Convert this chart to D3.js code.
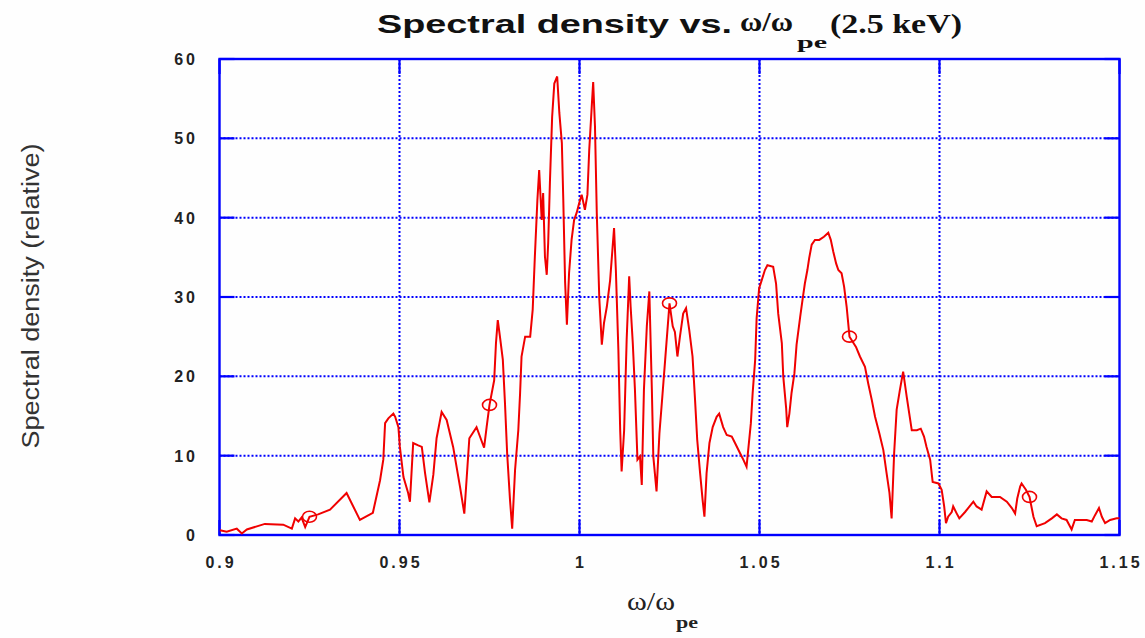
<!DOCTYPE html>
<html>
<head>
<meta charset="utf-8">
<script src="https://cdn.jsdelivr.net/npm/d3@7/dist/d3.min.js"></script>
<style>
  html, body { margin: 0; padding: 0; background: #ffffff; }
  svg { display: block; }
</style>
</head>
<body>
<svg id="chart" width="1145" height="638"></svg>
<script>
// ---- data ----
const freq = [
  0.9001,0.9020,0.9048,0.9062,0.9076,0.9126,0.9177,0.9201,0.9210,0.9219,0.9228,0.9238,0.9250,0.9274,0.9307,
  0.9353,0.9390,0.9426,0.9446,0.9455,0.9460,0.9469,0.9483,0.9488,0.9497,0.9501,0.9511,0.9524,0.9529,0.9538,
  0.9552,0.9562,0.9571,0.9583,0.9594,0.9603,0.9617,0.9631,0.9649,0.9668,0.9680,0.9694,0.9714,0.9735,0.9742,
  0.9750,0.9763,0.9768,0.9773,0.9779,0.9787,0.9793,0.9799,0.9807,0.9813,0.9821,0.9830,0.9835,0.9839,0.9849,
  0.9863,0.9870,0.9876,0.9883,0.9888,0.9895,0.9899,0.9904,0.9909,0.9913,0.9918,0.9924,0.9930,0.9938,0.9944,
  0.9951,0.9955,0.9960,0.9965,0.9971,0.9978,0.9985,0.9992,0.9999,1.0006,1.0015,1.0022,1.0027,1.0034,1.0038,
  1.0043,1.0048,1.0055,1.0062,1.0068,1.0076,1.0085,1.0092,1.0096,1.0101,1.0108,1.0113,1.0117,1.0124,1.0131,
  1.0138,1.0142,1.0148,1.0154,1.0161,1.0168,1.0173,1.0179,1.0187,1.0194,1.0201,1.0205,1.0214,1.0222,1.0230,
  1.0238,1.0250,1.0259,1.0265,1.0272,1.0279,1.0288,1.0296,1.0305,1.0314,1.0321,1.0327,1.0335,1.0342,1.0347,
  1.0353,1.0361,1.0370,1.0381,1.0388,1.0399,1.0409,1.0423,1.0432,1.0446,1.0455,1.0464,1.0476,1.0481,1.0488,
  1.0492,1.0499,1.0506,1.0515,1.0522,1.0538,1.0546,1.0552,1.0562,1.0566,1.0574,1.0577,1.0583,1.0589,1.0597,
  1.0603,1.0613,1.0620,1.0626,1.0633,1.0638,1.0645,1.0654,1.0666,1.0679,1.0691,1.0698,1.0705,1.0713,1.0719,
  1.0728,1.0735,1.0742,1.0750,1.0768,1.0779,1.0793,1.0802,1.0812,1.0821,1.0833,1.0844,1.0853,1.0861,1.0867,
  1.0874,1.0881,1.0890,1.0899,1.0909,1.0916,1.0923,1.0937,1.0948,1.0957,1.0964,1.0974,1.0981,1.0997,1.1006,
  1.1013,1.1018,1.1024,1.1034,1.1038,1.1048,1.1055,1.1071,1.1094,1.1103,1.1117,1.1131,1.1145,1.1168,1.1187,
  1.1201,1.1210,1.1216,1.1224,1.1228,1.1240,1.1250,1.1261,1.1270,1.1293,1.1312,1.1326,1.1339,1.1353,1.1367,
  1.1376,1.1409,1.1423,1.1432,1.1443,1.1451,1.1460,1.1474,1.1492,1.1500
];
const density = [
  0.6,0.4,0.8,0.2,0.7,1.4,1.3,0.8,2.1,1.7,2.2,1.0,2.3,2.6,3.2,
  5.3,1.9,2.8,6.9,9.5,14.1,14.7,15.3,14.9,13.6,11.1,7.3,5.3,4.2,11.6,
  11.3,11.1,7.8,4.1,7.6,12.2,15.5,14.5,11.1,6.1,2.7,12.2,13.6,11.0,13.6,
  16.4,19.5,24.2,27.1,25.0,22.1,16.6,10.3,4.4,0.8,8.2,13.2,17.9,22.5,25.0,
  25.0,28.4,35.1,42.2,46.0,39.7,43.1,35.1,32.8,36.8,44.7,52.7,56.9,57.8,53.2,
  49.4,42.2,31.9,26.5,33.0,37.2,39.7,40.6,41.8,42.9,41.0,42.9,48.5,54.0,57.1,
  51.5,40.6,29.8,24.0,26.7,28.8,32.1,36.3,38.7,33.4,23.3,13.2,8.0,13.2,24.6,
  32.6,28.8,24.2,18.3,9.5,9.9,6.3,18.3,26.3,30.7,18.3,9.9,5.5,12.8,17.4,
  22.1,29.2,26.3,25.6,22.5,25.0,27.9,28.6,25.8,22.5,17.0,12.0,7.8,4.4,2.3,
  7.8,11.6,13.6,14.9,15.3,13.6,12.6,12.4,11.6,10.3,9.5,8.6,14.1,17.9,22.1,
  27.3,31.1,32.1,33.4,34.0,33.8,31.7,27.9,24.2,20.0,16.0,13.6,15.3,17.9,20.4,
  24.0,27.5,29.8,31.7,33.4,34.9,36.6,37.2,37.2,37.6,38.1,37.2,35.7,34.2,33.4,
  33.0,31.3,28.8,25.0,23.7,22.5,21.2,19.1,17.0,14.9,12.8,10.7,7.8,5.3,2.1,
  10.3,15.8,18.3,20.6,17.4,15.3,13.2,13.2,13.4,12.4,11.1,9.5,6.7,6.5,5.7,
  3.6,1.5,2.3,2.9,3.6,2.7,2.1,2.9,4.2,3.6,3.2,5.5,4.8,4.8,4.2,
  3.4,2.7,4.6,6.1,6.5,5.7,4.8,2.3,1.1,1.5,2.1,2.6,2.1,1.9,0.7,
  1.9,1.9,1.7,2.5,3.4,2.3,1.5,1.9,2.1,2.1
];
const markerFreq = [0.925, 0.975, 1.025, 1.075, 1.125];
const markerDensity = [2.3, 16.4, 29.2, 25.0, 4.8];
const xTicks = [0.9, 0.95, 1.0, 1.05, 1.1, 1.15];
const xTickLabels = ["0.9", "0.95", "1", "1.05", "1.1", "1.15"];
const yTicks = [0, 10, 20, 30, 40, 50, 60];
const yTickLabels = ["0", "10", "20", "30", "40", "50", "60"];
const titleMain = "Spectral density vs.";
const titleSym = "ω/ω";
const titleSub = "pe";
const titleTail = "(2.5 keV)";
const xLabelSym = "ω/ω";
const xLabelSub = "pe";
const yLabel = "Spectral density (relative)";

// ---- drawing ----
const svg = d3.select("#chart");
const L = 219.5, R = 1119.5, T = 59, B = 535;
const x = d3.scaleLinear().domain([0.9, 1.15]).range([L, R]);
const y = d3.scaleLinear().domain([0, 60]).range([B, T]);
const blue = "#0000ff";

svg.append("rect").attr("width", 1145).attr("height", 638).attr("fill", "#fefefe");

// grid (dotted)
const grid = svg.append("g").attr("stroke", blue).attr("stroke-width", 2)
  .attr("stroke-dasharray", "2,2").attr("fill", "none");
xTicks.filter(v => v > 0.9 && v < 1.15).forEach(v => {
  grid.append("line").attr("x1", x(v)).attr("x2", x(v)).attr("y1", T).attr("y2", B);
});
yTicks.filter(v => v > 0 && v < 60).forEach(v => {
  grid.append("line").attr("x1", L).attr("x2", R).attr("y1", y(v)).attr("y2", y(v));
});

// inward solid ticks on all four sides
const tk = 15;
const ticks = svg.append("g").attr("stroke", blue).attr("stroke-width", 2.2);
xTicks.forEach(v => {
  ticks.append("line").attr("x1", x(v)).attr("x2", x(v)).attr("y1", B).attr("y2", B - tk);
  ticks.append("line").attr("x1", x(v)).attr("x2", x(v)).attr("y1", T).attr("y2", T + tk);
});
yTicks.forEach(v => {
  ticks.append("line").attr("x1", L).attr("x2", L + tk).attr("y1", y(v)).attr("y2", y(v));
  ticks.append("line").attr("x1", R).attr("x2", R - tk).attr("y1", y(v)).attr("y2", y(v));
});

// frame
svg.append("rect").attr("x", L).attr("y", T).attr("width", R - L).attr("height", B - T)
  .attr("fill", "none").attr("stroke", blue).attr("stroke-width", 2.4);

// data line
const pts = freq.map((f, i) => [f, density[i]]);
svg.append("path").datum(pts)
  .attr("fill", "none").attr("stroke", "#f00000").attr("stroke-width", 2)
  .attr("stroke-linejoin", "miter")
  .attr("d", d3.line().x(d => x(d[0])).y(d => y(d[1])));

// markers
svg.append("g").selectAll("ellipse").data(markerFreq.map((f, i) => [f, markerDensity[i]]))
  .join("ellipse")
  .attr("cx", d => x(d[0])).attr("cy", d => y(d[1]))
  .attr("rx", 7).attr("ry", 5.5)
  .attr("fill", "none").attr("stroke", "#f00000").attr("stroke-width", 1.6);

// tick labels
const tickFont = "Arial, 'Liberation Sans', Helvetica, sans-serif";
svg.append("g").selectAll("text").data(xTicks).join("text")
  .attr("x", d => x(d) + 1.5).attr("y", 568)
  .attr("text-anchor", "middle")
  .attr("font-family", tickFont).attr("font-size", 16).attr("font-weight", "bold")
  .attr("letter-spacing", 3).attr("fill", "#222")
  .text((d, i) => xTickLabels[i]);
svg.append("g").selectAll("text").data(yTicks).join("text")
  .attr("x", 198).attr("y", d => y(d) + 6)
  .attr("text-anchor", "end")
  .attr("font-family", tickFont).attr("font-size", 16).attr("font-weight", "bold")
  .attr("letter-spacing", 3).attr("fill", "#222")
  .text((d, i) => yTickLabels[i]);

// title
const serif = "'Liberation Serif', 'Times New Roman', 'DejaVu Serif', serif";
svg.append("text").attr("x", 377).attr("y", 33)
  .attr("font-family", tickFont).attr("font-weight", "bold").attr("font-size", 25)
  .attr("textLength", 355).attr("lengthAdjust", "spacingAndGlyphs").attr("fill", "#111")
  .text(titleMain);
svg.append("text").attr("x", 740).attr("y", 31)
  .attr("font-family", serif).attr("font-weight", "bold").attr("font-size", 28)
  .attr("textLength", 53).attr("lengthAdjust", "spacingAndGlyphs").attr("fill", "#111")
  .text(titleSym);
svg.append("text").attr("x", 797).attr("y", 48)
  .attr("font-family", serif).attr("font-weight", "bold").attr("font-size", 17)
  .attr("textLength", 30).attr("lengthAdjust", "spacingAndGlyphs").attr("fill", "#111")
  .text(titleSub);
svg.append("text").attr("x", 830).attr("y", 33)
  .attr("font-family", serif).attr("font-weight", "bold").attr("font-size", 27)
  .attr("textLength", 132).attr("lengthAdjust", "spacingAndGlyphs").attr("fill", "#111")
  .text(titleTail);

// x label
svg.append("text").attr("x", 627).attr("y", 610)
  .attr("font-family", serif).attr("font-size", 25)
  .attr("textLength", 48).attr("lengthAdjust", "spacingAndGlyphs").attr("fill", "#222")
  .text(xLabelSym);
svg.append("text").attr("x", 676).attr("y", 628)
  .attr("font-family", serif).attr("font-weight", "bold").attr("font-size", 16)
  .attr("textLength", 22).attr("lengthAdjust", "spacingAndGlyphs").attr("fill", "#222")
  .text(xLabelSub);

// y label
svg.append("text").attr("transform", "translate(39,296) rotate(-90)")
  .attr("text-anchor", "middle")
  .attr("font-family", tickFont).attr("font-size", 23)
  .attr("textLength", 305).attr("lengthAdjust", "spacingAndGlyphs").attr("fill", "#333")
  .text(yLabel);
</script>
</body>
</html>
